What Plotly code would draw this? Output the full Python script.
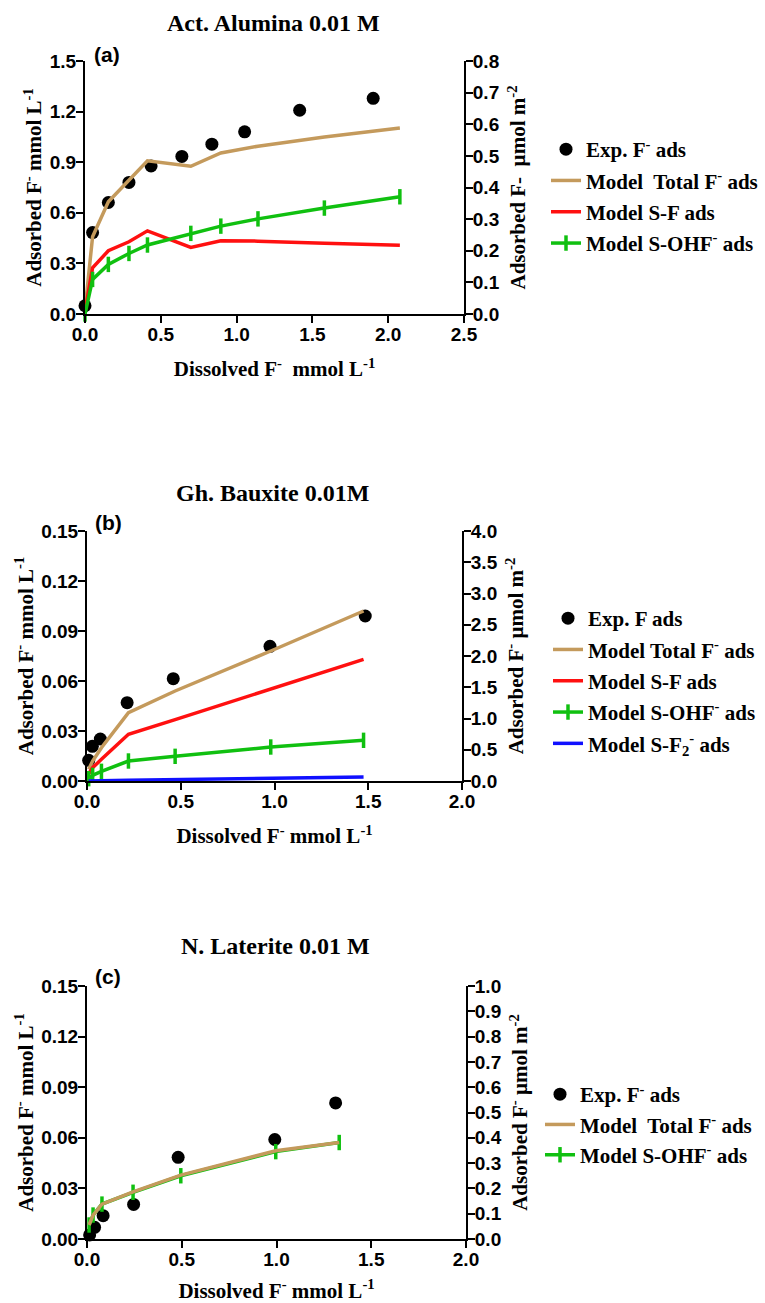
import plotly.graph_objects as go

# ---------------- Panel (a): Act. Alumina ----------------
a_exp_x = [0.0, 0.05, 0.154, 0.29, 0.436, 0.639, 0.837, 1.053, 1.416, 1.901]
a_exp_y = [0.049, 0.483, 0.661, 0.78, 0.878, 0.934, 1.007, 1.080, 1.208, 1.279]
a_mod_x = [0.0, 0.05, 0.154, 0.29, 0.412, 0.698, 0.896, 1.141, 1.579, 2.077]
a_total = [0.024, 0.458, 0.665, 0.793, 0.908, 0.876, 0.955, 0.995, 1.05, 1.103]
a_sf = [0.014, 0.274, 0.375, 0.428, 0.493, 0.395, 0.434, 0.432, 0.420, 0.407]
a_sohf = [0.0, 0.205, 0.294, 0.359, 0.409, 0.478, 0.521, 0.564, 0.628, 0.695]

# ---------------- Panel (b): Gh. Bauxite ----------------
b_exp_x = [0.009, 0.0285, 0.071, 0.214, 0.46, 0.976, 1.484]
b_exp_y = [0.0124, 0.0208, 0.0252, 0.047, 0.0614, 0.0808, 0.099]
b_mod_x = [0.009, 0.03, 0.077, 0.221, 0.47, 0.98, 1.475]
b_total = [0.007, 0.012, 0.020, 0.041, 0.054, 0.078, 0.102]
b_sf = [0.0044, 0.008, 0.013, 0.028, 0.0368, 0.055, 0.073]
b_sohf = [0.0014, 0.0034, 0.0058, 0.012, 0.0148, 0.0204, 0.0244]
b_sf2 = [0.0, 0.0001, 0.0002, 0.0005, 0.0009, 0.0016, 0.0024]

# ---------------- Panel (c): N. Laterite ----------------
c_exp_x = [0.014, 0.04, 0.085, 0.246, 0.481, 0.991, 1.312]
c_exp_y = [0.0024, 0.0069, 0.0138, 0.0205, 0.0484, 0.059, 0.0807]
c_mod_x = [0.011, 0.032, 0.079, 0.243, 0.495, 0.996, 1.331]
c_total = [0.0083, 0.0142, 0.0207, 0.028, 0.0379, 0.0523, 0.0572]
c_sohf = [0.0083, 0.0142, 0.0207, 0.0277, 0.0375, 0.0518, 0.0572]

TAN = "#C49A5C"
RED = "#FF1010"
GREEN = "#10C010"
BLUE = "#1010FF"

W, H = 765, 1303

def px_x(v):
    return v / W

def px_y(v):
    return 1 - v / H

TICKFONT = dict(family="Liberation Sans", size=19, color="black", weight="bold")
TITLEFONT = dict(family="Liberation Serif", size=21, color="black", weight="bold")
LEGFONT = dict(family="Liberation Serif", size=21, color="black", weight="bold")

fig = go.Figure()

def exp_trace(x, y, name, xa, ya, leg, grp):
    return go.Scatter(x=x, y=y, mode="markers", name=name, xaxis=xa, yaxis=ya,
                      legend=leg, legendgroup=grp, cliponaxis=False,
                      marker=dict(symbol="circle", size=13, color="black"))

def line_trace(x, y, name, color, xa, ya, leg, grp, marker=False, rank=None):
    kw = {}
    if rank is not None:
        kw["legendrank"] = rank
    if marker:
        return go.Scatter(x=x, y=y, mode="lines+markers", name=name, xaxis=xa, yaxis=ya,
                          legend=leg, legendgroup=grp, cliponaxis=False,
                          line=dict(color=color, width=3.5),
                          marker=dict(symbol="line-ns", size=11,
                                      line=dict(color=color, width=3.5)), **kw)
    return go.Scatter(x=x, y=y, mode="lines", name=name, xaxis=xa, yaxis=ya,
                      legend=leg, legendgroup=grp, cliponaxis=False,
                      line=dict(color=color, width=3.5), **kw)

# Panel (a)
fig.add_trace(exp_trace(a_exp_x, a_exp_y, "Exp. F<sup>-</sup> ads", "x", "y", "legend", "a1"))
fig.add_trace(line_trace(a_mod_x, a_total, "Model  Total F<sup>-</sup> ads", TAN, "x", "y", "legend", "a2"))
fig.add_trace(line_trace(a_mod_x, a_sf, "Model S-F ads", RED, "x", "y", "legend", "a3"))
fig.add_trace(line_trace(a_mod_x, a_sohf, "Model S-OHF<sup>-</sup> ads", GREEN, "x", "y", "legend", "a4", marker=True))

# Panel (b)
fig.add_trace(exp_trace(b_exp_x, b_exp_y, "Exp. F ads", "x2", "y3", "legend2", "b1"))
fig.add_trace(line_trace(b_mod_x, b_total, "Model Total F<sup>-</sup> ads", TAN, "x2", "y3", "legend2", "b2"))
fig.add_trace(line_trace(b_mod_x, b_sf, "Model S-F ads", RED, "x2", "y3", "legend2", "b3"))
fig.add_trace(line_trace(b_mod_x, b_sohf, "Model S-OHF<sup>-</sup> ads", GREEN, "x2", "y3", "legend2", "b4", marker=True))
fig.add_trace(line_trace(b_mod_x, b_sf2, "Model S-F<sub>2</sub><sup>-</sup> ads", BLUE, "x2", "y3", "legend2", "b5"))

# Panel (c)
fig.add_trace(exp_trace(c_exp_x, c_exp_y, "Exp. F<sup>-</sup> ads", "x3", "y5", "legend3", "c1"))
fig.data[-1].legendrank = 1
fig.add_trace(line_trace(c_mod_x, c_sohf, "Model S-OHF<sup>-</sup> ads", GREEN, "x3", "y5", "legend3", "c3", marker=True, rank=3))
fig.add_trace(line_trace(c_mod_x, c_total, "Model  Total F<sup>-</sup> ads", TAN, "x3", "y5", "legend3", "c2", rank=2))

# empty traces so that the secondary (right) axes get drawn
for ya, xa in (("y2", "x"), ("y4", "x2"), ("y6", "x3")):
    fig.add_trace(go.Scatter(x=[], y=[], xaxis=xa, yaxis=ya, showlegend=False,
                             hoverinfo="skip", mode="markers"))


def xaxis(domain, rng, dtick, anchor, title):
    return dict(domain=domain, range=rng, dtick=dtick, tick0=0, tickformat=".1f",
                showline=True, linecolor="black", linewidth=2, ticks="outside",
                ticklen=7, tickwidth=2, tickcolor="black", tickfont=TICKFONT,
                ticklabelstandoff=-5,
                showgrid=False, zeroline=False, anchor=anchor, automargin=False,
                title=dict(text=title, font=TITLEFONT, standoff=18))


def yaxis(domain, rng, dtick, fmt, anchor, title, standoff=2):
    return dict(domain=domain, range=rng, dtick=dtick, tick0=0, tickformat=fmt,
                showline=True, linecolor="black", linewidth=2, ticks="outside",
                ticklen=7, tickwidth=2, tickcolor="black", tickfont=TICKFONT,
                ticklabelstandoff=-4,
                showgrid=False, zeroline=False, anchor=anchor, automargin=False,
                title=dict(text=title, font=TITLEFONT, standoff=standoff))


def yaxis_r(domain, rng, dtick, anchor, over, title):
    d = yaxis(domain, rng, dtick, ".1f", anchor, title, standoff=12)
    d.update(side="right", overlaying=over)
    return d

LEFT_T = "Adsorbed F<sup>-</sup> mmol L<sup>-1</sup>"
XT_A = "Dissolved F<sup>-</sup>  mmol L<sup>-1</sup>"
XT_BC = "Dissolved F<sup>-</sup> mmol L<sup>-1</sup>"

fig.update_layout(
    width=W, height=H,
    margin=dict(l=0, r=0, t=0, b=0),
    paper_bgcolor="white", plot_bgcolor="white",
    xaxis=xaxis([px_x(85), px_x(464)], [0, 2.5], 0.5, "y", XT_A),
    yaxis=yaxis([px_y(314), px_y(61)], [0, 1.5], 0.3, ".1f", "x", LEFT_T),
    yaxis2=yaxis_r([px_y(314), px_y(61)], [0, 0.8], 0.1, "x", "y",
                   "Adsorbed F-  µmol m<sup>-2</sup>"),
    xaxis2=xaxis([px_x(87), px_x(462)], [0, 2.0], 0.5, "y3", XT_BC),
    yaxis3=yaxis([px_y(781), px_y(531)], [0, 0.15], 0.03, ".2f", "x2", LEFT_T),
    yaxis4=yaxis_r([px_y(781), px_y(531)], [0, 4.0], 0.5, "x2", "y3",
                   "Adsorbed F<sup>-</sup> µmol m<sup>-2</sup>"),
    xaxis3=xaxis([px_x(87), px_x(466)], [0, 2.0], 0.5, "y5", XT_BC),
    yaxis5=yaxis([px_y(1239), px_y(986)], [0, 0.15], 0.03, ".2f", "x3", LEFT_T),
    yaxis6=yaxis_r([px_y(1239), px_y(986)], [0, 1.0], 0.1, "x3", "y5",
                   "Adsorbed F<sup>-</sup> µmol m<sup>-2</sup>"),
    legend=dict(x=px_x(546), y=px_y(129), xanchor="left", yanchor="top",
                font=LEGFONT, tracegroupgap=1, bgcolor="rgba(0,0,0,0)"),
    legend2=dict(x=px_x(548), y=px_y(598), xanchor="left", yanchor="top",
                 font=LEGFONT, tracegroupgap=1, bgcolor="rgba(0,0,0,0)"),
    legend3=dict(x=px_x(540), y=px_y(1074), xanchor="left", yanchor="top",
                 font=LEGFONT, tracegroupgap=0, bgcolor="rgba(0,0,0,0)"),
    showlegend=True,
)

TF = dict(family="Liberation Serif", size=24, color="black", weight="bold")
LF = dict(family="Liberation Sans", size=21, color="black", weight="bold")
anns = [
    ("Act. Alumina 0.01 M", 273, 23, TF),
    ("Gh. Bauxite 0.01M", 272, 493, TF),
    ("N. Laterite 0.01 M", 275, 946, TF),
    ("(a)", 107, 55, LF),
    ("(b)", 108, 522, LF),
    ("(c)", 108, 976, LF),
]
for text, x, y, f in anns:
    fig.add_annotation(text=text, x=px_x(x), y=px_y(y), xref="paper", yref="paper",
                       showarrow=False, font=f, xanchor="center", yanchor="middle")

fig.write_html("out.html")
